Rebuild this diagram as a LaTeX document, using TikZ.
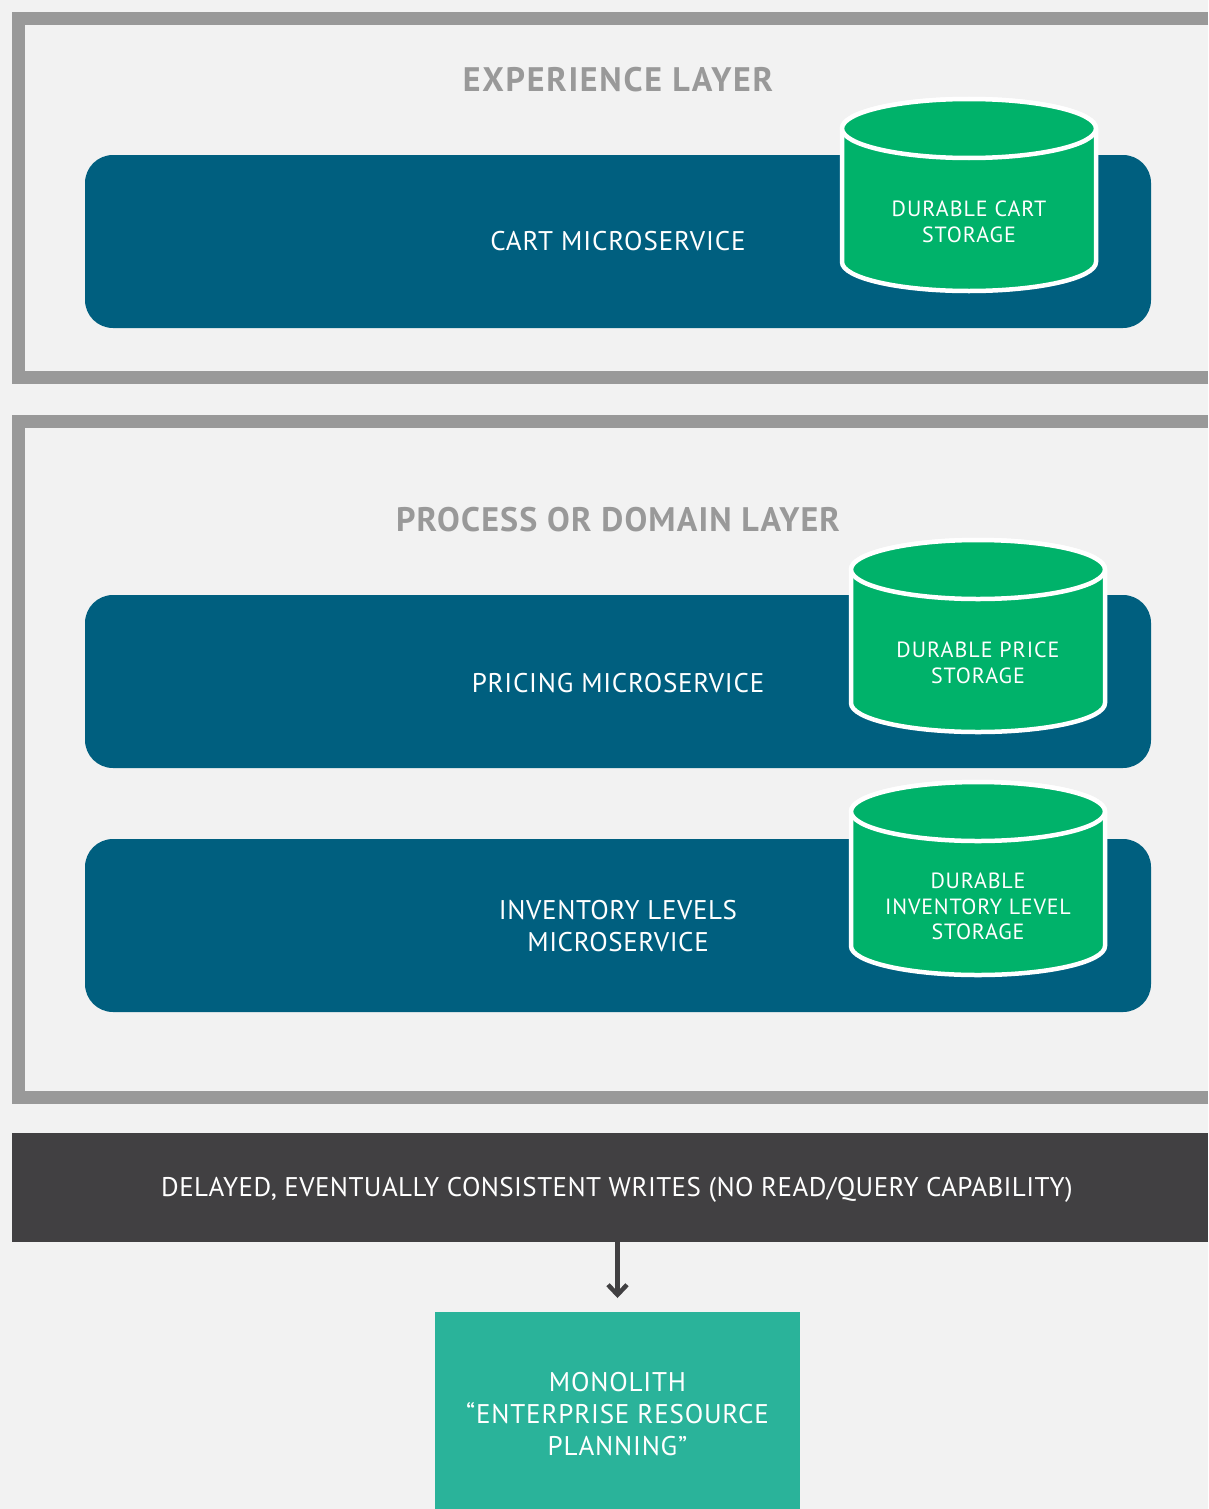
\documentclass[tikz,border=0pt]{standalone}
\usepackage{fontspec}
\setmainfont{PT Sans}
\usetikzlibrary{arrows.meta}
\definecolor{bgc}{HTML}{F2F2F2}
\definecolor{framec}{HTML}{999999}
\definecolor{svc}{HTML}{005F7F}
\definecolor{greenc}{HTML}{00B26A}
\definecolor{darkc}{HTML}{414042}
\definecolor{monoc}{HTML}{2AB39A}
\definecolor{titlec}{HTML}{999999}
\newcommand{\fsz}[3]{\fontsize{#1}{#2}\selectfont\addfontfeature{LetterSpace=#3}}
\newcommand{\nudge}[2]{\setbox0\hbox{#2}\raisebox{#1}[\ht0][\dp0]{\copy0}}
\newcommand{\stack}[1]{\begin{tabular}{@{}c@{}}#1\end{tabular}}
\tikzset{
  x=1pt,y=-1pt,
  framepath/.style={draw=framec,line width=13pt,line join=miter},
  layertitle/.style={text=titlec,inner sep=0pt,align=center},
  service/.style={fill=svc,rounded corners=28pt,minimum width=1066pt,minimum height=173pt,inner sep=0pt,text=white,align=center},
  cylbody/.style={fill=greenc,draw=white,line width=4.5pt,line join=round},
  cyllabel/.style={text=white,align=center,inner sep=0pt},
  barbox/.style={fill=darkc,minimum width=1196pt,minimum height=109pt,inner sep=0pt},
  monobox/.style={fill=monoc,minimum width=365pt,minimum height=197pt,inner sep=0pt,text=white,align=center},
  flow/.style={draw=darkc,line width=4.5pt,-{Straight Barb[length=10pt,width=19pt,line width=4.5pt]}},
}
\newcommand{\cyl}[7]{% name, cx, top cy, bottom cy, spacing, label offset, text
  \path[cylbody] (#2-127,#3) -- (#2-127,#4) arc[x radius=127,y radius=29,start angle=180,end angle=0]
     -- (#2+127,#3) arc[x radius=127,y radius=29.5,start angle=0,end angle=-180] -- cycle;
  \path[cylbody] (#2,#3) ellipse[x radius=127,y radius=29.5];
  \node[cyllabel,font=\fsz{22}{25.5}{#5}] (#1) at (#2,{(#3+#4)/2+#6}) {#7};
}
\begin{document}
\begin{tikzpicture}
\useasboundingbox (0,0) rectangle (1208,1509);
\fill[bgc] (0,0) rectangle (1208,1509);
\draw[framepath] (1208,18.5) -- (18.5,18.5) -- (18.5,377.5) -- (1208,377.5);
\draw[framepath] (1208,421.5) -- (18.5,421.5) -- (18.5,1097.5) -- (1208,1097.5);
\node[layertitle,font=\fsz{34}{38}{5.1}\bfseries] (t1) at (618,80) {EXPERIENCE LAYER};
\node[layertitle,font=\fsz{34}{38}{3.4}\bfseries] (t2) at (618,520) {PROCESS OR DOMAIN LAYER};
\node[service,font=\fsz{27}{32}{3.3}] (cart) at (618,241.5) {CART MICROSERVICE};
\node[service,font=\fsz{27}{32}{2.8}] (pricing) at (618,681.5) {\nudge{-1.5pt}{PRICING MICROSERVICE}};
\node[service,font=\fsz{27}{32}{2.3}] (inventory) at (618,925.5) {\nudge{-3.5pt}{\stack{INVENTORY LEVELS\\MICROSERVICE}}};
\cyl{cartdb}{969}{128.5}{262}{4.5}{26.5}{DURABLE CART\\STORAGE}
\cyl{pricedb}{978}{569.5}{703}{4.5}{26.5}{DURABLE PRICE\\STORAGE}
\cyl{invdb}{978}{811.5}{946}{3.6}{28}{DURABLE\\INVENTORY LEVEL\\STORAGE}
\node[barbox] (bar) at (610,1187.5) {};
\node[text=white,inner sep=0pt,font=\fsz{27}{32}{1.55}] (barlabel) at (617,1190) {DELAYED, EVENTUALLY CONSISTENT WRITES (NO READ/QUERY CAPABILITY)};
\node[monobox,font=\fsz{27}{32}{3}] (mono) at (617.5,1410.5) {\nudge{-6.5pt}{\stack{MONOLITH\\“ENTERPRISE RESOURCE\\PLANNING”}}};
\coordinate (tipend) at (617.5,1298);
\draw[flow] (bar.south -| mono.north) -- (tipend);
\end{tikzpicture}
\end{document}
